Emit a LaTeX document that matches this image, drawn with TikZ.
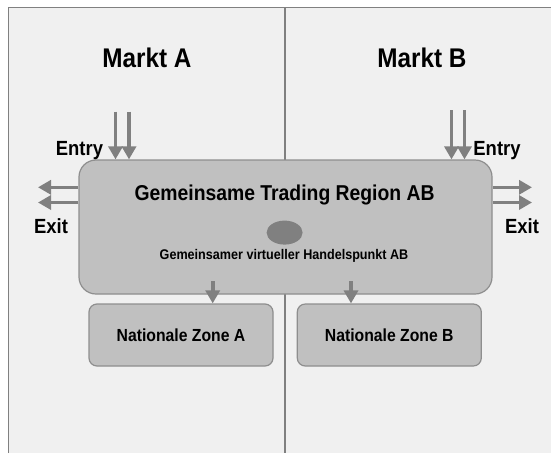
\documentclass[tikz,border=0pt]{standalone}
\usepackage{fontspec}
\setmainfont[FakeStretch=0.9]{Liberation Sans}
\usetikzlibrary{arrows.meta,shapes.geometric}
\definecolor{bgc}{HTML}{F0F0F0}
\definecolor{linec}{HTML}{808080}
\definecolor{boxc}{HTML}{C0C0C0}
\definecolor{boxd}{HTML}{8E8E8E}
\definecolor{arrc}{HTML}{808080}
\begin{document}
\begin{tikzpicture}[x=1pt,y=-1pt,
 region/.style={draw=boxd, fill=boxc, line width=1.2pt, rounded corners=17pt, minimum width=413pt, minimum height=134pt, inner sep=0pt},
 zone/.style={draw=boxd, fill=boxc, line width=1.2pt, rounded corners=8pt, minimum width=184pt, minimum height=62pt, inner sep=0pt, font=\fontsize{17.5}{20}\selectfont\bfseries},
 flow/.style={draw=arrc, line width=3.6pt, -{Triangle[width=14pt,length=13pt]}},
 lbl/.style={font=\fontsize{20.5}{24}\selectfont\bfseries, inner sep=0pt},
 head/.style={font=\fontsize{27}{30}\selectfont\bfseries, inner sep=0pt},
 hub/.style={ellipse, fill=arrc, minimum width=36pt, minimum height=24pt, inner sep=0pt}
]
\useasboundingbox (0,0) rectangle (551,453);
\fill[white] (0,0) rectangle (551,453);
\fill[bgc] (8.5,7.5) rectangle (551,453);
\draw[linec, line width=1.5pt] (8.5,453) -- (8.5,7.5) -- (551,7.5);
\draw[linec, line width=2pt] (285,7.5) -- (285,453);

\node[head] (mA) at (147,58) {Markt A};
\node[head] (mB) at (422,58) {Markt B};

\node[region] (main) at (285.5,227) {};
\node[font=\fontsize{21.5}{24}\selectfont\bfseries, inner sep=0pt] (title) at (284.6,195) {Gemeinsame Trading Region AB};
\node[hub] (hub) at (284.6,232.6) {};
\node[font=\fontsize{14}{16}\selectfont\bfseries, inner sep=0pt] (sub) at (284,256) {Gemeinsamer virtueller Handelspunkt AB};

\node[zone] (zA) at (181,335) {Nationale Zone A};
\node[zone] (zB) at (389.3,335) {Nationale Zone B};

% entry arrows
\coordinate (eA1) at (115.5,111.5);
\coordinate (eA2) at (129,111.5);
\coordinate (eB1) at (451.5,110);
\coordinate (eB2) at (464.5,110);
\draw[flow] (eA1) -- (eA1 |- main.north);
\draw[flow] (eA2) -- (eA2 |- main.north);
\draw[flow] (eB1) -- (eB1 |- main.north);
\draw[flow] (eB2) -- (eB2 |- main.north);
\node[lbl] (entA) at (79.5,151) {Entry};
\node[lbl] (entB) at (497,151) {Entry};

% exit arrows
\coordinate (xA1) at (38,187.3);
\coordinate (xA2) at (38,202.5);
\coordinate (xB1) at (532,187.3);
\coordinate (xB2) at (532,202.5);
\draw[flow] (main.west |- xA1) -- (xA1);
\draw[flow] (main.west |- xA2) -- (xA2);
\draw[flow] (main.east |- xB1) -- (xB1);
\draw[flow] (main.east |- xB2) -- (xB2);
\node[lbl] (exA) at (51,226) {Exit};
\node[lbl] (exB) at (522,226) {Exit};

% down arrows
\coordinate (dA) at (212.7,281);
\coordinate (dB) at (351,281);
\draw[flow] (dA) -- (dA |- zA.north);
\draw[flow] (dB) -- (dB |- zB.north);
\end{tikzpicture}
\end{document}
